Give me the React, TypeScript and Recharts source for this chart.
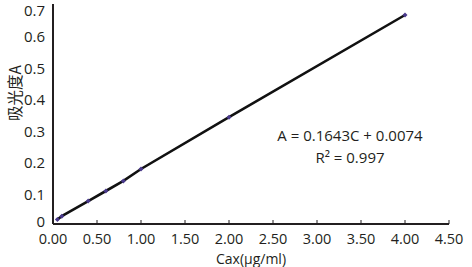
import { LineChart, Line, XAxis, YAxis, Label } from 'recharts'

const concentrations = [0.05, 0.1, 0.4, 0.6, 0.8, 1.0, 2.0, 4.0]
const absorbance = [0.014, 0.025, 0.073, 0.105, 0.137, 0.175, 0.34, 0.665]
const xTicks = [0, 0.5, 1, 1.5, 2, 2.5, 3, 3.5, 4, 4.5]
const yTicks = [0, 0.1, 0.2, 0.3, 0.4, 0.5, 0.6, 0.7]
const equation = 'A = 0.1643C + 0.0074'
const rSquared = 'R² = 0.997'

const data = concentrations.map((c, i) => ({ c, a: absorbance[i] }))

const ink = '#231f20'
const font = '"Open Sans", "Liberation Sans", sans-serif'

function XTick({ x, y, payload }: any) {
  return (
    <g>
      <line x1={x} x2={x} y1={y} y2={y - 4} stroke={ink} strokeWidth={1} />
      <text x={x} y={y + 14} textAnchor="middle" fill={ink} fontSize={14.5} fontFamily={font} dominantBaseline="central">
        {Number(payload.value).toFixed(2)}
      </text>
    </g>
  )
}

function YTick({ x, y, payload }: any) {
  // the zero label sits a little above the x axis in the original
  const dy = payload.value === 0 ? -3 : 1
  return (
    <text x={x} y={y + dy} textAnchor="end" fill={ink} fontSize={15} fontFamily={font} dominantBaseline="central">
      {payload.value === 0 ? '0' : payload.value.toFixed(1)}
    </text>
  )
}

function Diamond({ cx, cy }: any) {
  if (cx == null || cy == null) return null
  return <path d={`M${cx},${cy - 2.5}L${cx + 2.5},${cy}L${cx},${cy + 2.5}L${cx - 2.5},${cy}Z`} fill="#4a3a8c" />
}

export default function App() {
  return (
    <div style={{ position: 'fixed', left: 0, top: 0, width: 472, height: 267, background: '#fff' }}>
      <LineChart width={472} height={267} data={data} margin={{ top: 4, right: 23, left: 0, bottom: 13 }}>
        <XAxis
          dataKey="c"
          type="number"
          domain={[0, 4.5]}
          ticks={xTicks}
          tick={<XTick />}
          tickLine={false}
          tickSize={0}
          tickMargin={0}
          height={30}
          stroke={ink}
          strokeWidth={2}
        >
          <Label
            content={() => (
              <text x={251} y={258} textAnchor="middle" fill={ink} fontSize={14} fontFamily={font} dominantBaseline="central">
                Cax(μg/ml)
              </text>
            )}
          />
        </XAxis>
        <YAxis
          type="number"
          domain={[0, 0.7]}
          ticks={yTicks}
          tick={<YTick />}
          tickLine={false}
          width={53}
          stroke={ink}
          strokeWidth={2}
        >
          <Label
            content={() => (
              <text
                x={14}
                y={93}
                transform="rotate(-90 14 93)"
                textAnchor="middle"
                fill={ink}
                fontSize={15.5}
                fontFamily='"Noto Sans CJK SC", sans-serif'
                dominantBaseline="central"
              >
                吸光度A
              </text>
            )}
          />
        </YAxis>
        <Line
          type="linear"
          dataKey="a"
          stroke="#111"
          strokeWidth={2.6}
          dot={<Diamond />}
          activeDot={false}
          isAnimationActive={false}
        />
      </LineChart>
      <div
        style={{
          position: 'absolute',
          left: 250,
          top: 124,
          width: 200,
          textAlign: 'center',
          fontFamily: font,
          fontSize: 15,
          lineHeight: '22px',
          color: ink,
        }}
      >
        <div>{equation}</div>
        <div>{rSquared}</div>
      </div>
    </div>
  )
}
